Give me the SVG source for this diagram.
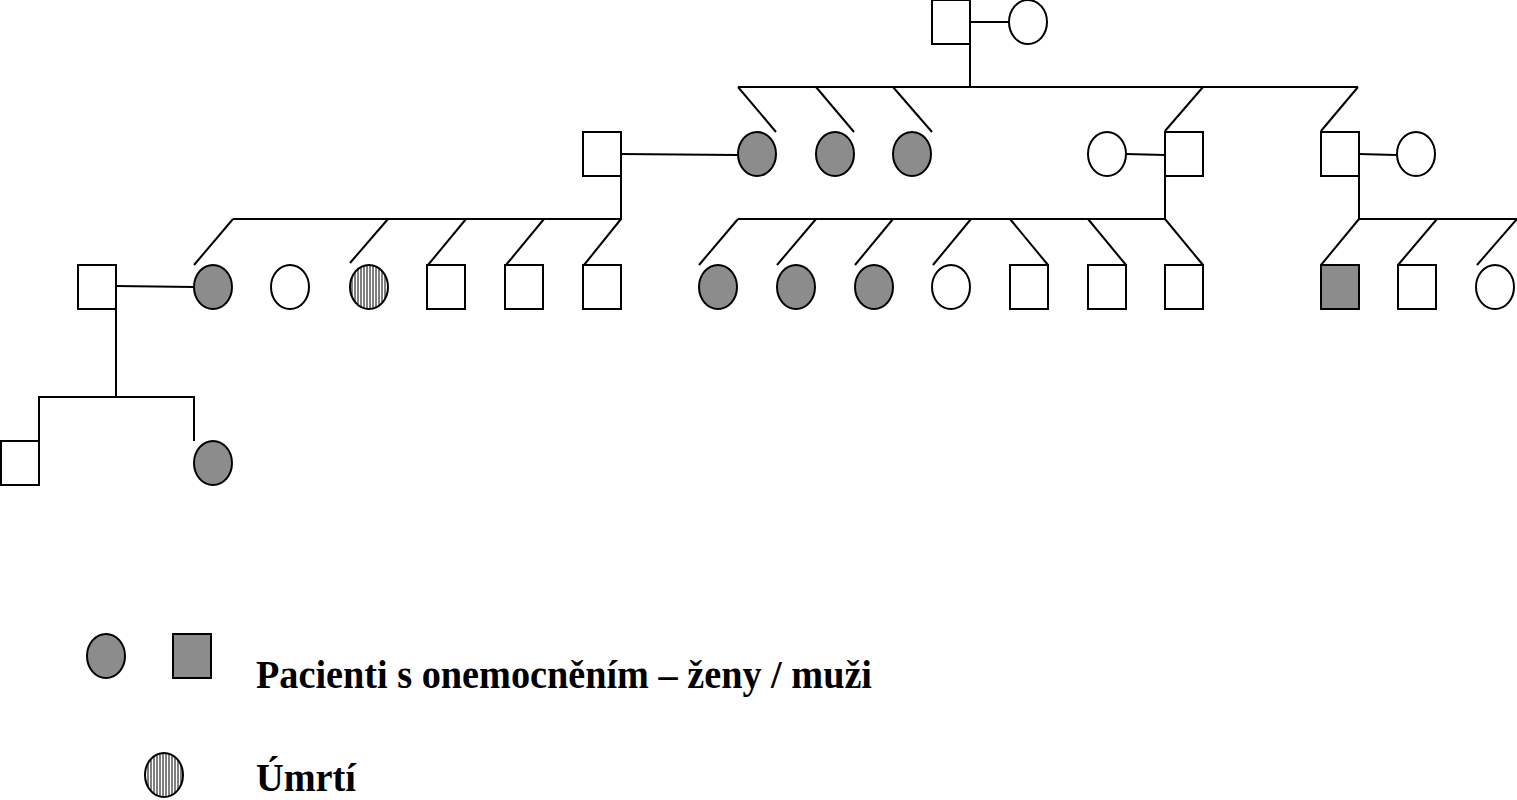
<svg xmlns="http://www.w3.org/2000/svg" width="1517" height="800" viewBox="0 0 1517 800">
<style>
.s{fill:#fff;stroke:#000;stroke-width:2}
.a{fill:#8c8c8c;stroke:#000;stroke-width:2}
.h{fill:url(#hatch);stroke:#000;stroke-width:2}
.c line,.c polyline{stroke:#000;stroke-width:2;fill:none}
text{font-family:"Liberation Serif","Times New Roman",serif;font-weight:bold;font-size:40px;fill:#000}
</style>
<defs>
<pattern id="hatch" width="3" height="10" patternUnits="userSpaceOnUse">
<rect width="3" height="10" fill="#fff"/><line x1="1" y1="0" x2="1" y2="10" stroke="#000" stroke-width="1"/>
</pattern>
</defs>
<rect width="1517" height="800" fill="#fff"/>
<g class="c">
<line x1="970" y1="22" x2="1009" y2="22"/>
<line x1="970" y1="44" x2="970" y2="87"/>
<line x1="738" y1="87" x2="1358" y2="87"/>
<line x1="738" y1="87" x2="776" y2="132"/>
<line x1="816" y1="87" x2="854" y2="132"/>
<line x1="893" y1="87" x2="932" y2="132"/>
<line x1="1203" y1="87" x2="1165" y2="131"/>
<line x1="1358" y1="87" x2="1321" y2="131"/>
<line x1="621" y1="154" x2="737" y2="155"/>
<line x1="1126" y1="154" x2="1165" y2="155"/>
<line x1="1359" y1="154" x2="1396" y2="155"/>
<polyline points="621,176 621,219 233,219"/>
<polyline points="1165,176 1165,219 738,219"/>
<polyline points="1359,176 1359,219 1517,219"/>
<line x1="233" y1="219" x2="194" y2="265"/>
<line x1="388" y1="219" x2="350" y2="263"/>
<line x1="466" y1="219" x2="428" y2="265"/>
<line x1="544" y1="219" x2="506" y2="265"/>
<line x1="621" y1="219" x2="584" y2="265"/>
<line x1="738" y1="219" x2="699" y2="265"/>
<line x1="816" y1="219" x2="777" y2="265"/>
<line x1="893" y1="219" x2="855" y2="265"/>
<line x1="971" y1="219" x2="933" y2="265"/>
<line x1="1010" y1="219" x2="1048" y2="265"/>
<line x1="1088" y1="219" x2="1126" y2="265"/>
<line x1="1165" y1="219" x2="1203" y2="265"/>
<line x1="1359" y1="219" x2="1321" y2="265"/>
<line x1="1437" y1="219" x2="1398" y2="265"/>
<line x1="1517" y1="219" x2="1477" y2="265"/>
<line x1="116" y1="286" x2="194" y2="287"/>
<polyline points="116,309 116,397"/>
<polyline points="39,441 39,397 194,397 194,441"/>
</g>
<g id="g1m"><rect class="s" x="932" y="0" width="38" height="44"/></g>
<g id="g1f"><ellipse class="s" cx="1028" cy="22" rx="19" ry="22"/></g>
<g id="g2a"><rect class="s" x="583" y="132" width="38" height="44"/></g>
<g id="g2b"><ellipse class="a" cx="757" cy="154" rx="19" ry="22"/></g>
<g id="g2c"><ellipse class="a" cx="835" cy="154" rx="19" ry="22"/></g>
<g id="g2d"><ellipse class="a" cx="912" cy="154" rx="19" ry="22"/></g>
<g id="g2e"><ellipse class="s" cx="1107" cy="154" rx="19" ry="22"/></g>
<g id="g2f"><rect class="s" x="1165" y="132" width="38" height="44"/></g>
<g id="g2g"><rect class="s" x="1321" y="132" width="38" height="44"/></g>
<g id="g2h"><ellipse class="s" cx="1416" cy="154" rx="19" ry="22"/></g>
<g id="g3a"><rect class="s" x="78" y="265" width="38" height="44"/></g>
<g id="g3b"><ellipse class="a" cx="213" cy="287" rx="19" ry="22"/></g>
<g id="g3c"><ellipse class="s" cx="290" cy="287" rx="19" ry="22"/></g>
<g id="g3d"><ellipse class="h" cx="369" cy="287" rx="19" ry="22"/></g>
<g id="g3e"><rect class="s" x="427" y="265" width="38" height="44"/></g>
<g id="g3f"><rect class="s" x="505" y="265" width="38" height="44"/></g>
<g id="g3g"><rect class="s" x="583" y="265" width="38" height="44"/></g>
<g id="g3h"><ellipse class="a" cx="718" cy="287" rx="19" ry="22"/></g>
<g id="g3i"><ellipse class="a" cx="796" cy="287" rx="19" ry="22"/></g>
<g id="g3j"><ellipse class="a" cx="874" cy="287" rx="19" ry="22"/></g>
<g id="g3k"><ellipse class="s" cx="951" cy="287" rx="19" ry="22"/></g>
<g id="g3l"><rect class="s" x="1010" y="265" width="38" height="44"/></g>
<g id="g3m"><rect class="s" x="1088" y="265" width="38" height="44"/></g>
<g id="g3n"><rect class="s" x="1165" y="265" width="38" height="44"/></g>
<g id="g3o"><rect class="a" x="1321" y="265" width="38" height="44"/></g>
<g id="g3p"><rect class="s" x="1398" y="265" width="38" height="44"/></g>
<g id="g3q"><ellipse class="s" cx="1495" cy="287" rx="19" ry="22"/></g>
<g id="g4a"><rect class="s" x="1" y="441" width="38" height="44"/></g>
<g id="g4b"><ellipse class="a" cx="213" cy="463" rx="19" ry="22"/></g>
<g id="legend">
<ellipse class="a" cx="106" cy="656" rx="19" ry="22"/>
<rect class="a" x="173" y="634" width="38" height="44"/>
<text x="256" y="688" textLength="616" lengthAdjust="spacingAndGlyphs">Pacienti s onemocněním – ženy / muži</text>
<ellipse class="h" cx="164" cy="775" rx="19" ry="22"/>
<text x="256" y="791" textLength="100" lengthAdjust="spacingAndGlyphs">Úmrtí</text>
</g>
</svg>
